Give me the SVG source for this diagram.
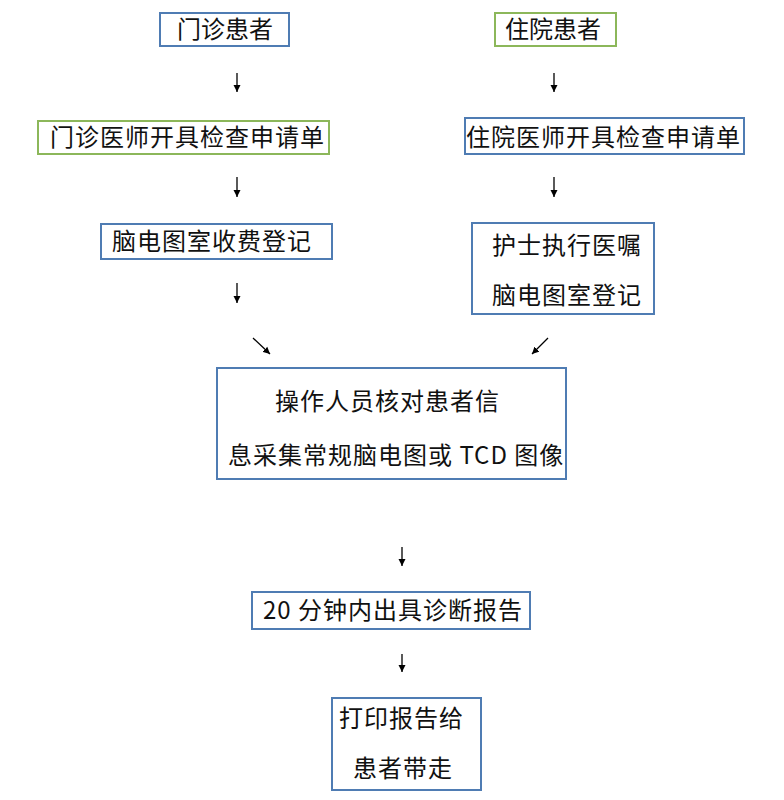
<svg xmlns="http://www.w3.org/2000/svg" width="784" height="800" viewBox="0 0 784 800">
<defs>
<marker id="ah" markerWidth="8" markerHeight="8" refX="7" refY="4" orient="auto" markerUnits="userSpaceOnUse">
<path d="M0,0.5 L7,4 L0,7.5 Z" fill="#000"/>
</marker>
<style>
rect{fill:#fff;stroke-width:2}
.b{stroke:#4f7cb3}
.g{stroke:#8cb75a}
text{font-family:"Noto Sans CJK SC","Noto Sans",sans-serif;font-size:24px;fill:#111;letter-spacing:1px}
.c line{stroke:#000;stroke-width:1.3;marker-end:url(#ah)}
</style>
</defs>
<rect x="0" y="0" width="784" height="800" style="fill:#fff;stroke:none"/>
<g id="n1"><rect class="b" x="160" y="13" width="129" height="33"/><text x="177" y="38" style="letter-spacing:0">门诊患者</text></g>
<g id="n2"><rect class="g" x="38" y="121" width="291" height="33"/><text x="50" y="146">门诊医师开具检查申请单</text></g>
<g id="n3"><rect class="b" x="101" y="224" width="231" height="35"/><text x="112" y="250">脑电图室收费登记</text></g>
<g id="n4"><rect class="g" x="495" y="13" width="121" height="33"/><text x="505" y="38" style="letter-spacing:0">住院患者</text></g>
<g id="n5"><rect class="b" x="465" y="118" width="279" height="36"/><text x="466" y="146">住院医师开具检查申请单</text></g>
<g id="n6"><rect class="b" x="472" y="223" width="182" height="91"/><text x="492" y="254">护士执行医嘱</text><text x="492" y="304">脑电图室登记</text></g>
<g id="n7"><rect class="b" x="217" y="368" width="349" height="111"/><text x="275" y="410">操作人员核对患者信</text><text x="228" y="464">息采集常规脑电图或 TCD 图像</text></g>
<g id="n8"><rect class="b" x="252" y="592" width="278" height="37"/><text x="263" y="619">20 分钟内出具诊断报告</text></g>
<g id="n9"><rect class="b" x="332" y="698" width="149" height="92"/><text x="339" y="727">打印报告给</text><text x="353" y="777">患者带走</text></g>
<g id="connectors" class="c">
<line x1="237" y1="73" x2="237" y2="92"/>
<line x1="237" y1="177" x2="237" y2="197"/>
<line x1="237" y1="283" x2="237" y2="303"/>
<line x1="554" y1="73" x2="554" y2="92"/>
<line x1="554" y1="177" x2="554" y2="197"/>
<line x1="253" y1="338" x2="270" y2="354"/>
<line x1="548" y1="338" x2="532" y2="354"/>
<line x1="402" y1="547" x2="402" y2="566"/>
<line x1="402" y1="654" x2="402" y2="672"/>
</g>
</svg>
